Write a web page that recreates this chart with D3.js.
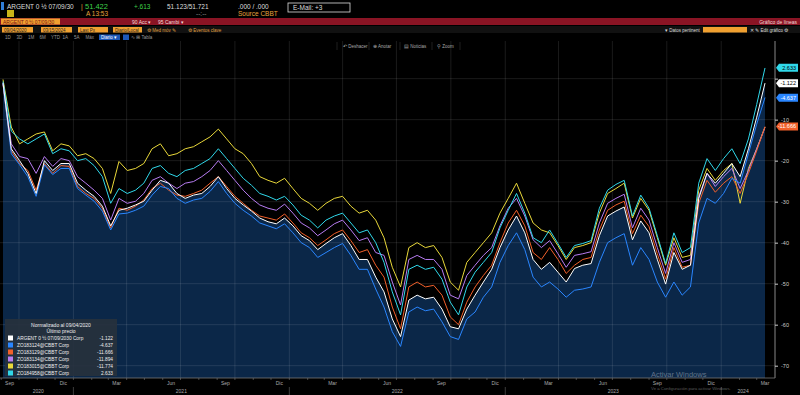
<!DOCTYPE html>
<html>
<head>
<meta charset="utf-8">
<script src="https://cdn.jsdelivr.net/npm/d3@7"></script>
<style>
  body { margin: 0; background: #000; overflow: hidden; }
  svg { display: block; font-family: "Liberation Sans", Arial, sans-serif; }
</style>
</head>
<body>
<div id="chart"></div>
<script>
// 1: DATA (normalizado al 09/04/2020, una observación cada 2 semanas)
const startDate = new Date(2020, 8, 4);
const stepDays = 14;

const argent = [-1.0,-17.1,-20.0,-23.1,-28.0,-20.0,-22.4,-20.7,-20.7,-25.5,-27.2,-28.7,-31.1,-35.9,-32.1,-31.6,-30.8,-29.9,-27.2,-24.8,
  -25.5,-28.0,-29.2,-28.4,-28.0,-26.3,-23.9,-26.8,-29.2,-30.8,-32.3,-34.0,-34.9,-35.4,-34.0,-35.9,-38.3,-39.5,-41.7,-40.2,
  -38.8,-37.8,-40.7,-44.1,-44.1,-48.4,-52.0,-58.6,-62.9,-54.0,-52.8,-53.7,-53.3,-56.2,-60.5,-61.0,-56.2,-52.8,-49.6,-46.5,
  -41.2,-36.9,-33.5,-37.6,-44.1,-46.5,-44.8,-47.2,-49.6,-46.3,-45.5,-45.1,-38.3,-33.5,-32.3,-31.3,-39.3,-34.7,-37.6,-44.1,
  -50.1,-42.4,-46.5,-45.5,-29.2,-23.1,-25.5,-23.1,-20.7,-23.9,-17.1,-9.4,-1.1];
const zo3124 = [-1.2,-18.3,-21.0,-23.9,-28.7,-21.0,-23.4,-21.9,-21.9,-26.8,-28.4,-29.9,-32.3,-36.9,-33.0,-32.8,-32.1,-31.1,-28.4,-26.3,
  -26.8,-29.2,-30.4,-29.6,-29.2,-27.5,-25.1,-28.0,-30.4,-32.1,-33.5,-35.2,-35.9,-36.6,-35.4,-37.6,-40.0,-41.2,-43.6,-42.4,
  -41.2,-40.2,-43.1,-46.5,-46.5,-51.3,-55.7,-61.7,-65.3,-56.9,-55.7,-56.6,-56.2,-59.3,-62.9,-63.6,-58.6,-56.9,-53.3,-50.8,
  -44.8,-40.7,-37.6,-41.7,-48.4,-50.8,-49.6,-51.3,-53.3,-51.6,-51.3,-50.8,-44.8,-40.0,-38.8,-37.8,-45.5,-41.2,-44.1,-49.6,
  -53.3,-49.6,-52.8,-50.8,-35.2,-29.2,-30.4,-28.0,-24.3,-25.5,-18.3,-11.1,-4.6];
const zo3129 = [-1.4,-17.6,-20.7,-22.4,-27.2,-20.7,-23.1,-21.2,-21.4,-26.3,-28.0,-29.2,-31.6,-36.4,-31.6,-32.1,-31.1,-29.6,-26.8,-25.5,
  -27.2,-28.4,-28.7,-28.0,-27.2,-25.5,-23.9,-26.3,-28.7,-30.4,-32.1,-33.5,-34.0,-34.5,-33.0,-35.2,-37.6,-38.8,-40.7,-39.3,
  -37.8,-36.9,-39.5,-42.4,-41.7,-45.5,-48.4,-55.7,-61.0,-50.8,-49.6,-50.8,-50.4,-52.8,-58.1,-60.0,-54.5,-50.8,-48.0,-45.5,
  -40.0,-35.2,-32.1,-35.9,-42.4,-44.1,-41.2,-44.1,-47.5,-45.5,-44.1,-43.6,-36.9,-32.1,-30.8,-29.9,-37.8,-33.3,-36.1,-42.7,
  -48.9,-41.2,-46.0,-45.5,-30.4,-24.8,-27.7,-25.5,-23.9,-28.0,-23.1,-17.6,-11.7];
const zo3134 = [-1.2,-15.9,-19.0,-19.5,-23.1,-19.0,-21.4,-19.5,-20.0,-23.9,-25.5,-27.2,-29.2,-34.5,-29.2,-30.4,-29.9,-28.0,-24.8,-23.9,
  -25.5,-26.8,-25.5,-25.1,-23.9,-22.4,-20.0,-22.4,-24.8,-27.2,-29.2,-30.8,-31.6,-32.1,-30.6,-32.8,-35.2,-36.4,-38.3,-36.9,
  -35.4,-34.5,-36.9,-39.5,-38.8,-42.4,-43.1,-49.6,-55.2,-44.1,-43.1,-44.1,-44.1,-46.5,-52.8,-53.7,-48.0,-45.5,-43.1,-41.2,
  -35.9,-31.6,-29.2,-33.5,-39.3,-41.2,-39.5,-42.7,-46.0,-43.1,-42.7,-42.2,-35.2,-30.4,-29.2,-28.2,-36.4,-31.6,-34.5,-41.2,
  -47.5,-40.0,-44.8,-44.1,-28.7,-23.1,-26.3,-23.9,-21.9,-26.8,-22.4,-17.1,-11.9];
const zo3015 = [-0.2,-11.8,-15.9,-14.7,-13.5,-13.0,-17.6,-15.9,-16.4,-18.8,-18.3,-19.5,-21.9,-28.0,-20.2,-22.4,-21.9,-20.7,-17.1,-15.9,
  -18.8,-18.3,-17.1,-16.6,-15.4,-14.2,-12.3,-14.7,-17.1,-18.3,-20.7,-23.9,-24.8,-25.5,-24.3,-26.8,-29.2,-30.4,-32.1,-30.4,
  -29.2,-28.7,-31.1,-32.8,-32.1,-34.5,-38.8,-46.0,-50.8,-41.2,-40.0,-41.2,-40.7,-43.6,-49.6,-51.6,-44.8,-42.4,-40.0,-37.6,
  -32.8,-29.2,-25.5,-30.4,-35.2,-36.9,-37.6,-40.7,-44.1,-41.2,-40.7,-40.0,-32.8,-28.0,-26.8,-25.5,-34.0,-29.2,-32.1,-38.8,
  -45.5,-38.8,-43.6,-43.1,-27.2,-21.9,-24.8,-22.4,-20.7,-30.4,-21.9,-17.1,-11.8];
const zo4958 = [-0.7,-12.8,-14.7,-15.9,-14.7,-13.5,-18.3,-17.1,-17.6,-20.0,-19.5,-21.2,-23.9,-30.4,-26.8,-28.0,-27.2,-25.5,-21.9,-21.2,
  -23.1,-23.9,-22.4,-21.9,-20.7,-19.5,-17.1,-19.5,-21.9,-24.3,-26.0,-28.0,-28.7,-29.6,-28.7,-30.8,-33.3,-34.5,-36.4,-34.5,
  -33.5,-32.8,-35.2,-37.6,-36.9,-40.0,-44.8,-52.0,-57.6,-46.5,-45.5,-46.5,-46.0,-48.9,-54.5,-57.6,-50.8,-47.2,-44.8,-42.4,
  -36.4,-32.1,-28.0,-32.8,-38.8,-40.0,-36.9,-40.2,-43.6,-40.7,-40.2,-39.5,-31.6,-27.2,-25.8,-24.8,-33.5,-28.4,-31.6,-38.3,
  -45.1,-37.6,-42.4,-41.2,-25.5,-19.5,-22.4,-19.5,-17.1,-20.7,-14.7,-6.3,2.6];

const seriesNames = ["ARGENT 0 ½ 07/09/2030 Corp", "ZO183124@CBBT Corp", "ZO183129@CBBT Corp",
  "ZO183134@CBBT Corp", "ZO183015@CBBT Corp", "ZO184958@CBBT Corp"];
const seriesColors = ["#ffffff", "#2a86ff", "#f2602a", "#b77cf2", "#e9d83a", "#30d8ea"];
const lastPrices = ["-1.122", "-4.637", "-11.666", "-11.894", "-11.774", "2.633"];
const seriesValues = [argent, zo3124, zo3129, zo3134, zo3015, zo4958];

const yTicks = [-70, -60, -50, -40, -30, -20, -10, 0];
const monthNames = ["Ene","Feb","Mar","Abr","May","Jun","Jul","Ago","Sep","Oct","Nov","Dic"];

// 2: LAYOUT
const W = 800, H = 395;
const plot = { left: 0, right: 775, top: 41, bottom: 378 };

const svg = d3.select("#chart").append("svg")
  .attr("width", W).attr("height", H);
svg.append("rect").attr("width", W).attr("height", H).attr("fill", "#000");

const dates = argent.map((_, i) => d3.timeDay.offset(startDate, i * stepDays));
const series = seriesValues.map((vals, k) => ({
  name: seriesNames[k], color: seriesColors[k], last: lastPrices[k],
  values: vals.map((v, i) => ({ date: dates[i], value: v }))
}));

const x = d3.scaleTime().domain([startDate, dates[dates.length - 1]]).range([3, 765]);
const y = d3.scaleLinear().domain([-73, 8.2]).range([378, 45]);

// 3: HEADER (barra Bloomberg)
const hdr = svg.append("g").attr("font-size", 6.5);
hdr.append("rect").attr("x", 1).attr("y", 2).attr("width", 3).attr("height", 8).attr("fill", "#2f7ed8");
hdr.append("text").attr("x", 7).attr("y", 8.5).attr("fill", "#ddd").text("ARGENT 0 ½ 07/09/30");
hdr.append("text").attr("x", 81).attr("y", 8.5).attr("fill", "#e8a33c").text("|");
hdr.append("text").attr("x", 85).attr("y", 8.5).attr("fill", "#3fd24a").attr("font-size", 7.5).text("51.422");
hdr.append("text").attr("x", 134).attr("y", 8.5).attr("fill", "#3fd24a").text("+.613");
hdr.append("text").attr("x", 167).attr("y", 8.5).attr("fill", "#ddd").text("51.123/51.721");
hdr.append("text").attr("x", 238).attr("y", 8.5).attr("fill", "#ddd").text(".000 / .000");
hdr.append("rect").attr("x", 288).attr("y", 3).attr("width", 62).attr("height", 9)
  .attr("fill", "none").attr("stroke", "#ddd").attr("stroke-width", 0.8);
hdr.append("text").attr("x", 293).attr("y", 10).attr("fill", "#ddd").text("E-Mail:  +3");
hdr.append("rect").attr("x", 7).attr("y", 10).attr("width", 7).attr("height", 7).attr("fill", "#c9b418");
hdr.append("text").attr("x", 86).attr("y", 16).attr("fill", "#e8a33c").text("A 13:53");
hdr.append("text").attr("x", 196).attr("y", 16).attr("fill", "#888").text("--:--");
hdr.append("text").attr("x", 238).attr("y", 16).attr("fill", "#e8a33c").text("Source CBBT");

// barra roja
hdr.append("rect").attr("x", 0).attr("y", 18).attr("width", W).attr("height", 7).attr("fill", "#8a1424");
hdr.append("rect").attr("x", 1).attr("y", 18.5).attr("width", 59).attr("height", 6).attr("fill", "#f0a030");
hdr.append("text").attr("x", 3).attr("y", 23.5).attr("font-size", 5).attr("fill", "#7a1010").text("ARGENT 0 ½ 07/09/30");
hdr.append("text").attr("x", 132).attr("y", 23.5).attr("font-size", 5).attr("fill", "#f3dada").text("90 Acc ▾");
hdr.append("text").attr("x", 158).attr("y", 23.5).attr("font-size", 5).attr("fill", "#f3dada").text("95 Cambi ▾");
hdr.append("text").attr("x", 797).attr("y", 23.5).attr("font-size", 5).attr("text-anchor", "end")
  .attr("fill", "#f3dada").text("Gráfico de líneas");

// fila de opciones
hdr.append("rect").attr("x", 0).attr("y", 26).attr("width", W).attr("height", 7).attr("fill", "#111");
const optBoxes = [[2, 31, "09/04/2020"], [41, 31, "03/15/2024"], [78, 30, "Last Px"], [113, 29, "Diario/Local"]];
optBoxes.forEach(([bx, bw, t]) => {
  hdr.append("rect").attr("x", bx).attr("y", 27).attr("width", bw).attr("height", 5.5).attr("fill", "#f0a030");
  hdr.append("text").attr("x", bx + 2).attr("y", 31.5).attr("font-size", 4.5).attr("fill", "#222").text(t);
});
hdr.append("text").attr("x", 147).attr("y", 31.5).attr("font-size", 4.5).attr("fill", "#e0a040").text("⚙  Med móv  ✎");
hdr.append("text").attr("x", 188).attr("y", 31.5).attr("font-size", 4.5).attr("fill", "#e0a040").text("⚙  Eventos clave");
hdr.append("text").attr("x", 665).attr("y", 31.5).attr("font-size", 4.5).attr("fill", "#ddd").text("▾ Datos pertinent");
hdr.append("rect").attr("x", 703).attr("y", 27).attr("width", 44).attr("height", 5.5).attr("fill", "#f0a030");
hdr.append("text").attr("x", 750).attr("y", 31.5).attr("font-size", 4.5).attr("fill", "#ddd").text("✕  ✎ Edit gráfico  ⚙");

// fila de rangos
const ranges = ["1D", "3D", "1M", "6M", "YTD", "1A", "5A", "Máx"];
ranges.forEach((r, i) => {
  hdr.append("text").attr("x", 5 + i * 11.5).attr("y", 38.5).attr("font-size", 4.5).attr("fill", "#999").text(r);
});
hdr.append("rect").attr("x", 99).attr("y", 34.5).attr("width", 21).attr("height", 5.5).attr("fill", "#1d58b8");
hdr.append("text").attr("x", 101).attr("y", 38.8).attr("font-size", 4.5).attr("fill", "#fff").text("Diario ▾");
hdr.append("rect").attr("x", 123).attr("y", 34.5).attr("width", 6).attr("height", 5.5).attr("fill", "#1d58b8");
hdr.append("text").attr("x", 131).attr("y", 38.8).attr("font-size", 4.5).attr("fill", "#999").text("∿   ⊞ Tabla");

// 4: PLOT
// área del bono principal
const area = d3.area().x(d => x(d.date)).y0(plot.bottom).y1(d => y(d.value));
svg.append("path").datum(series[0].values).attr("d", area).attr("fill", "#0b2748");

// grilla
const gridColor = "rgba(255,255,255,0.13)";
svg.append("g").selectAll("line").data(yTicks).join("line")
  .attr("x1", plot.left).attr("x2", plot.right)
  .attr("y1", d => y(d)).attr("y2", d => y(d))
  .attr("stroke", gridColor).attr("stroke-width", 0.8);
const quarterStarts = d3.timeMonth.every(3).range(new Date(2020, 9, 1), new Date(2024, 3, 1));
svg.append("g").selectAll("line").data(quarterStarts).join("line")
  .attr("x1", d => x(d)).attr("x2", d => x(d))
  .attr("y1", plot.top).attr("y2", plot.bottom)
  .attr("stroke", gridColor).attr("stroke-width", 0.8);

// barra de herramientas del gráfico
const tools = [[343, "↶ Deshacer"], [373, "⊕ Anotar"], [404, "▤ Noticias"], [437, "⚲ Zoom"]];
tools.forEach(([tx, t]) => {
  svg.append("text").attr("x", tx).attr("y", 47.5).attr("font-size", 4.5).attr("fill", "#aaa").text(t);
});
[337, 369, 400, 432, 460].forEach(sx => {
  svg.append("line").attr("x1", sx).attr("x2", sx).attr("y1", 42).attr("y2", 50)
    .attr("stroke", "#333").attr("stroke-width", 0.6);
});

// líneas
const line = d3.line().x(d => x(d.date)).y(d => y(d.value));
const drawOrder = [4, 3, 2, 5, 1, 0];
svg.append("g").selectAll("path").data(drawOrder.map(k => series[k])).join("path")
  .attr("d", d => line(d.values))
  .attr("fill", "none")
  .attr("stroke", d => d.color)
  .attr("stroke-width", 1)
  .attr("stroke-linejoin", "round");

// eje derecho (la etiqueta 0 queda tapada por la del último precio)
svg.append("line").attr("x1", plot.right).attr("x2", plot.right)
  .attr("y1", plot.top).attr("y2", plot.bottom).attr("stroke", "#aaa").attr("stroke-width", 0.8);
const yAxis = svg.append("g").attr("transform", `translate(${plot.right},0)`)
  .call(d3.axisRight(y).tickValues(yTicks).tickSize(3).tickPadding(3)
    .tickFormat(d => d === 0 ? "" : d));
yAxis.select(".domain").remove();
yAxis.selectAll("line").attr("stroke", "#ccc");
yAxis.selectAll("text").attr("fill", "#ccc").attr("font-size", 5.5)
  .attr("font-family", "Liberation Sans, Arial, sans-serif");

// etiquetas del último valor
const tagOrder = [5, 0, 1, 2];
const tagText = { 0: "#000", 1: "#fff", 2: "#fff", 5: "#000" };
tagOrder.forEach(k => {
  const s = series[k];
  const ty = y(+s.last);
  const g = svg.append("g").attr("transform", `translate(0,${ty})`);
  g.append("path")
    .attr("d", `M776,0 L779,-4 L798,-4 L798,4 L779,4 Z`)
    .attr("fill", s.color);
  g.append("text").attr("x", 796).attr("y", 2).attr("text-anchor", "end")
    .attr("font-size", 5.5).attr("fill", tagText[k]).text(s.last);
});

// eje inferior
svg.append("line").attr("x1", 0).attr("x2", plot.right)
  .attr("y1", plot.bottom).attr("y2", plot.bottom).attr("stroke", "#777").attr("stroke-width", 0.8);
const months = d3.timeMonth.range(new Date(2020, 8, 1), new Date(2024, 3, 1));
svg.append("g").selectAll("line").data(months).join("line")
  .attr("x1", d => x(d)).attr("x2", d => x(d))
  .attr("y1", plot.bottom).attr("y2", plot.bottom + 2)
  .attr("stroke", "#777").attr("stroke-width", 0.6);
const labelMonths = months.filter(d => d.getMonth() % 3 === 2);
svg.append("g").selectAll("text").data(labelMonths).join("text")
  .attr("x", d => x(d3.timeDay.offset(d, 14)))
  .attr("y", 385).attr("text-anchor", "middle")
  .attr("font-size", 5).attr("fill", "#aaa")
  .text(d => monthNames[d.getMonth()]);

const yearStarts = [2021, 2022, 2023, 2024].map(yr => new Date(yr, 0, 1));
svg.append("g").selectAll("line").data(yearStarts).join("line")
  .attr("x1", d => x(d)).attr("x2", d => x(d))
  .attr("y1", 387).attr("y2", 395)
  .attr("stroke", "#555").attr("stroke-width", 0.7);
const yearSpans = [
  [2020, startDate, yearStarts[0]], [2021, yearStarts[0], yearStarts[1]],
  [2022, yearStarts[1], yearStarts[2]], [2023, yearStarts[2], yearStarts[3]],
  [2024, yearStarts[3], dates[dates.length - 1]]
];
svg.append("g").selectAll("text").data(yearSpans).join("text")
  .attr("x", d => (x(d[1]) + x(d[2])) / 2)
  .attr("y", 393).attr("text-anchor", "middle")
  .attr("font-size", 5).attr("fill", "#aaa")
  .text(d => d[0]);

// marca de agua de Windows
svg.append("text").attr("x", 651).attr("y", 376.5).attr("font-size", 7.5)
  .attr("fill", "rgba(255,255,255,0.35)").text("Activar Windows");
svg.append("text").attr("x", 651).attr("y", 390).attr("font-size", 4.3)
  .attr("fill", "rgba(255,255,255,0.35)").text("Ve a Configuración para activar Windows.");

// 5: LEYENDA
const lg = svg.append("g").attr("transform", "translate(5,319)");
lg.append("rect").attr("width", 112).attr("height", 57).attr("fill", "#27313d").attr("opacity", 0.92);
lg.append("text").attr("x", 56).attr("y", 8).attr("text-anchor", "middle")
  .attr("font-size", 5).attr("fill", "#eee").text("Normalizado al 09/04/2020");
lg.append("text").attr("x", 56).attr("y", 14).attr("text-anchor", "middle")
  .attr("font-size", 5).attr("fill", "#eee").text("Último precio");
const rows = lg.selectAll(".row").data(series).join("g")
  .attr("class", "row")
  .attr("transform", (d, i) => `translate(0,${21 + i * 7})`);
rows.append("rect").attr("x", 3).attr("y", -4.5).attr("width", 5).attr("height", 5)
  .attr("fill", d => d.color);
rows.append("text").attr("x", 12).attr("y", 0).attr("font-size", 4.8).attr("fill", "#eee").text(d => d.name);
rows.append("text").attr("x", 108).attr("y", 0).attr("text-anchor", "end")
  .attr("font-size", 4.8).attr("fill", "#eee").text(d => d.last);
</script>
</body>
</html>
